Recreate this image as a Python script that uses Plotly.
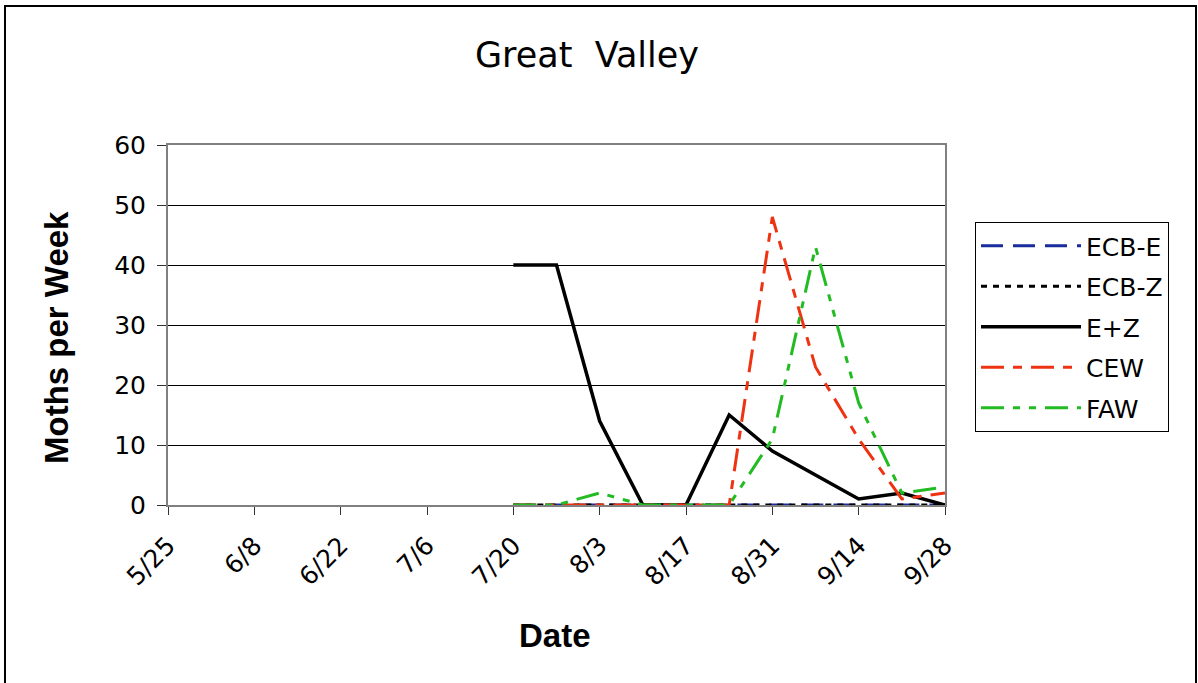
import plotly.graph_objects as go

dates = ["2007-07-20", "2007-07-27", "2007-08-03", "2007-08-10", "2007-08-17", "2007-08-24",
         "2007-08-31", "2007-09-07", "2007-09-14", "2007-09-21", "2007-09-28"]
ecb_e = [0, 0, 0, 0, 0, 0, 0, 0, 0, 0, 0]
ecb_z = [0, 0, 0, 0, 0, 0, 0, 0, 0, 0, 0]
e_plus_z = [40, 40, 14, 0, 0, 15, 9, 5, 1, 2, 0]
cew = [0, 0, 0, 0, 0, 0, 48, 23, 11, 1, 2]
faw = [0, 0, 2, 0, 0, 0, 11, 43, 17, 2, 3]

tick_vals = ["2007-05-25", "2007-06-08", "2007-06-22", "2007-07-06", "2007-07-20",
             "2007-08-03", "2007-08-17", "2007-08-31", "2007-09-14", "2007-09-28"]
tick_text = ["5/25", "6/8", "6/22", "7/6", "7/20", "8/3", "8/17", "8/31", "9/14", "9/28"]

FONT = "DejaVu Sans"
BOLD_FONT = "Liberation Sans"
L, R, T, B = 168, 945, 145, 505
PW, PH = R - L, B - T

def px(xp):
    return (xp - L) / PW

def py(yp):
    return (B - yp) / PH

series = [
    ("ECB-E", ecb_e, "#1a2d9c", "22px,10px", 3),
    ("ECB-Z", ecb_z, "#000000", "6px,6px", 3),
    ("E+Z", e_plus_z, "#000000", "solid", 3.5),
    ("CEW", cew, "#ee3312", "23px,9px,9px,9px", 3),
    ("FAW", faw, "#22bb22", "23px,9px,7px,9px,7px,9px", 3),
]

fig = go.Figure()
for name, vals, color, dash, w in series:
    fig.add_trace(go.Scatter(x=dates, y=vals, name=name, mode="lines", legendgroup=name,
                             line=dict(color=color, dash=dash, width=w)))

fig.update_layout(
    width=1198, height=683,
    paper_bgcolor="white", plot_bgcolor="white",
    margin=dict(l=L, r=1198 - R, t=T, b=683 - B),
    font=dict(family=FONT, color="black", size=20),
    title=dict(text="Great  Valley", x=587 / 1198, xanchor="center",
               y=1 - 55 / 683, yanchor="middle", font=dict(size=35, family=FONT)),
    showlegend=True,
    legend=dict(x=px(975), y=py(222), xanchor="left", yanchor="top",
                bordercolor="black", borderwidth=1, bgcolor="white",
                font=dict(size=25, family=FONT), itemwidth=100, tracegroupgap=5,
                traceorder="grouped"),
)

fig.update_xaxes(
    type="date", range=["2007-05-25", "2007-09-28"],
    tickvals=tick_vals, ticktext=tick_text, tickangle=-45,
    ticks="outside", ticklen=8, tickcolor="#333333", tickwidth=1,
    showgrid=False, showline=True, linecolor="#808080", linewidth=2, mirror=True,
    tickfont=dict(size=25, family=FONT), ticklabelstandoff=6,
)
fig.update_yaxes(
    range=[0, 60], dtick=10, tick0=0,
    ticks="outside", ticklen=9, tickcolor="#333333", tickwidth=1,
    showgrid=True, gridcolor="black", gridwidth=1,
    showline=True, linecolor="#808080", linewidth=2, mirror=True,
    zeroline=False, tickfont=dict(size=25, family=FONT), ticklabelstandoff=6,
)

fig.add_annotation(text="<b>Date</b>", xref="paper", yref="paper",
                   x=px(555), y=py(635), xanchor="center", yanchor="middle",
                   showarrow=False, font=dict(size=33, family=BOLD_FONT))
fig.add_annotation(text="<b>Moths per Week</b>", xref="paper", yref="paper",
                   x=px(56), y=py(338), xanchor="center", yanchor="middle",
                   textangle=-90, showarrow=False, font=dict(size=33, family=BOLD_FONT))

fig.add_shape(type="rect", xref="paper", yref="paper",
              x0=px(5), x1=px(1196), y0=py(700), y1=py(6),
              line=dict(color="black", width=2), layer="below")

fig.write_html("out.html", config={"displayModeBar": False},
               post_script="document.body.style.margin='0';")
